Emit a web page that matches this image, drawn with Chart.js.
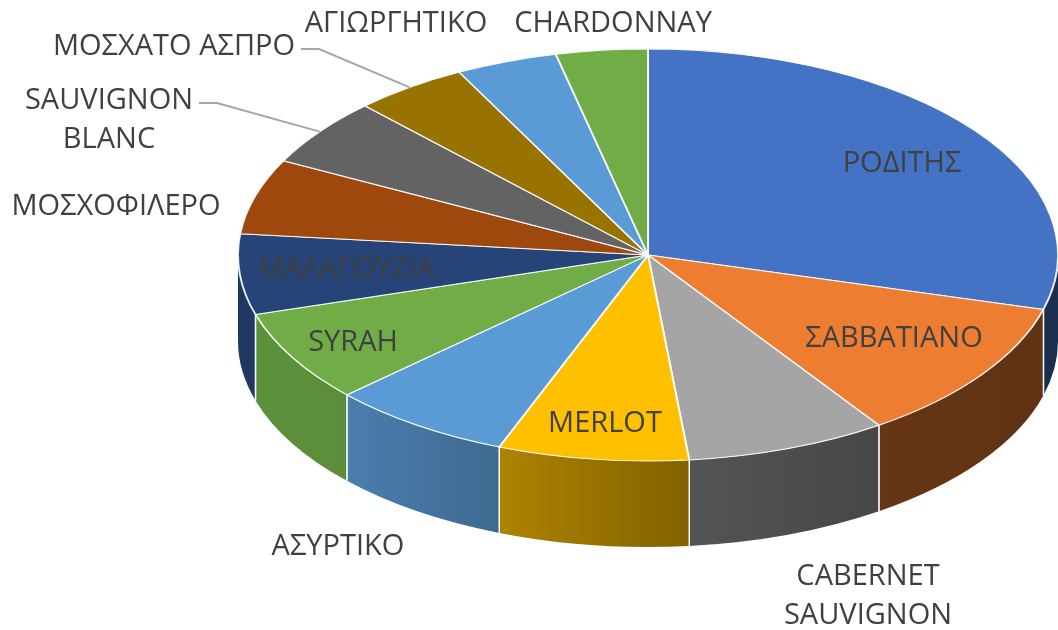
<!DOCTYPE html>
<html>
<head>
<meta charset="utf-8">
<script src="https://cdn.jsdelivr.net/npm/chart.js@4.4.0/dist/chart.umd.min.js"></script>
<style>
  html, body { margin: 0; padding: 0; background: #fff; }
  #wrap { width: 1058px; height: 630px; }
</style>
</head>
<body>
<div id="wrap"><canvas id="wineChart" width="1058" height="630"></canvas></div>
<script>
// ποικιλίες και μερίδια (%)
const varieties = ['ΡΟΔΙΤΗΣ', 'ΣΑΒΒΑΤΙΑΝΟ', 'CABERNET SAUVIGNON', 'MERLOT', 'ΑΣΥΡΤΙΚΟ', 'SYRAH',
  'ΜΑΛΑΓΟΥΖΙΑ', 'ΜΟΣΧΟΦΙΛΕΡΟ', 'SAUVIGNON BLANC', 'ΜΟΣΧΑΤΟ ΑΣΠΡΟ', 'ΑΓΙΩΡΓΗΤΙΚΟ', 'CHARDONNAY'];
const shares = [29.2, 11.2, 7.9, 7.5, 7.2, 7.2, 6.3, 5.9, 5.3, 4.5, 4.0, 3.6];
const colors = ['#4472C4', '#ED7D31', '#A5A5A5', '#FFC000', '#5B9BD5', '#70AD47',
  '#264478', '#9E480E', '#636363', '#997300', '#5B9BD5', '#70AD47'];

// θέσεις ετικετών (κείμενο, όχι σημάδια)
const labelLayout = [
  { lines: ['ΡΟΔΙΤΗΣ'], x: 902, y: 164 },
  { lines: ['ΣΑΒΒΑΤΙΑΝΟ'], x: 894, y: 339 },
  { lines: ['CABERNET', 'SAUVIGNON'], x: 868, y: 577 },
  { lines: ['MERLOT'], x: 605, y: 424 },
  { lines: ['ΑΣΥΡΤΙΚΟ'], x: 338, y: 547 },
  { lines: ['SYRAH'], x: 353, y: 343 },
  { lines: ['ΜΑΛΑΓΟΥΖΙΑ'], x: 346, y: 270 },
  { lines: ['ΜΟΣΧΟΦΙΛΕΡΟ'], x: 116, y: 207 },
  { lines: ['SAUVIGNON', 'BLANC'], x: 109, y: 101, leader: true },
  { lines: ['ΜΟΣΧΑΤΟ ΑΣΠΡΟ'], x: 174, y: 47, leader: true },
  { lines: ['ΑΓΙΩΡΓΗΤΙΚΟ'], x: 396, y: 24 },
  { lines: ['CHARDONNAY'], x: 613, y: 24 },
];

// γεωμετρία 3Δ πίτας
const geo = { cx: 648, cy: 255, rx: 410, ry: 206, depth: 86 };
// φωτισμός πλαϊνού τοιχώματος ανά γωνία (μοίρες)
const lightAngles = [0, 35, 70, 97, 124, 150, 180];
const lightLevels = [0.40, 0.40, 0.45, 0.56, 0.79, 0.84, 0.82];

function shade(hex, f) {
  const n = parseInt(hex.slice(1), 16);
  const r = Math.round(((n >> 16) & 255) * f);
  const g = Math.round(((n >> 8) & 255) * f);
  const b = Math.round((n & 255) * f);
  return 'rgb(' + r + ',' + g + ',' + b + ')';
}
function light(a) {
  const deg = a * 180 / Math.PI;
  for (let i = 1; i < lightAngles.length; i++) {
    if (deg <= lightAngles[i]) {
      const t = (deg - lightAngles[i - 1]) / (lightAngles[i] - lightAngles[i - 1]);
      return lightLevels[i - 1] + t * (lightLevels[i] - lightLevels[i - 1]);
    }
  }
  return lightLevels[lightLevels.length - 1];
}

const pie3d = {
  id: 'pie3d',
  beforeDatasetsDraw(chart) {
    const ctx = chart.ctx;
    const meta = chart.getDatasetMeta(0);
    const { cx, cy, rx, ry, depth } = geo;
    // πλαϊνά τοιχώματα (μόνο το μπροστινό μισό)
    meta.data.forEach((arc, i) => {
      const a1 = Math.max(arc.startAngle, 0);
      const a2 = Math.min(arc.endAngle, Math.PI);
      if (a2 <= a1) return;
      const xR = cx + rx * Math.cos(a1);
      const xL = cx + rx * Math.cos(a2);
      const grad = ctx.createLinearGradient(xL, 0, xR, 0);
      grad.addColorStop(0, shade(colors[i], light(a2)));
      grad.addColorStop(1, shade(colors[i], light(a1)));
      ctx.save();
      ctx.beginPath();
      ctx.ellipse(cx, cy, rx, ry, 0, a1, a2, false);
      ctx.ellipse(cx, cy + depth, rx, ry, 0, a2, a1, true);
      ctx.closePath();
      ctx.fillStyle = grad;
      ctx.fill();
      ctx.strokeStyle = 'rgba(255,255,255,0.9)';
      ctx.lineWidth = 1.5;
      [a1, a2].forEach(a => {
        if (a <= 0.001 || a >= Math.PI - 0.001) return;
        const x = cx + rx * Math.cos(a), y = cy + ry * Math.sin(a);
        ctx.beginPath();
        ctx.moveTo(x, y);
        ctx.lineTo(x, y + depth);
        ctx.stroke();
      });
      ctx.restore();
    });
    // πάνω επιφάνεια: ο κύκλος του Chart.js γίνεται έλλειψη
    const el = meta.data[0];
    const R = el.outerRadius;
    ctx.save();
    ctx.translate(cx, cy);
    ctx.scale(rx / R, ry / R);
    ctx.translate(-el.x, -el.y);
  },
  afterDatasetsDraw(chart) {
    const ctx = chart.ctx;
    ctx.restore();
    const meta = chart.getDatasetMeta(0);
    const { cx, cy, rx, ry } = geo;
    ctx.save();
    ctx.font = '29px "Open Sans", "Noto Sans", sans-serif';
    ctx.fillStyle = '#404040';
    ctx.textAlign = 'center';
    ctx.textBaseline = 'middle';
    labelLayout.forEach((lab, i) => {
      lab.lines.forEach((t, k) => ctx.fillText(t, lab.x, lab.y + k * 39));
      if (lab.leader) {
        const arc = meta.data[i];
        const mid = (arc.startAngle + arc.endAngle) / 2;
        const ex = cx + rx * Math.cos(mid);
        const ey = cy + ry * Math.sin(mid);
        const w = ctx.measureText(lab.lines[0]).width;
        const sx = lab.x + w / 2 + 6;
        ctx.beginPath();
        ctx.moveTo(sx, lab.y + 2);
        ctx.lineTo(sx + 18, lab.y + 2);
        ctx.lineTo(ex, ey);
        ctx.strokeStyle = '#A6A6A6';
        ctx.lineWidth = 2;
        ctx.stroke();
      }
    });
    ctx.restore();
  }
};

new Chart(document.getElementById('wineChart'), {
  type: 'pie',
  data: {
    labels: varieties,
    datasets: [{
      data: shares,
      backgroundColor: colors,
      borderColor: 'rgba(255,255,255,0.9)',
      borderWidth: 1.5,
      clip: false,
    }],
  },
  options: {
    responsive: false,
    animation: false,
    events: [],
    layout: { padding: 0 },
    plugins: {
      legend: { display: false },
      tooltip: { enabled: false },
    },
  },
  plugins: [pie3d],
});
</script>
</body>
</html>
